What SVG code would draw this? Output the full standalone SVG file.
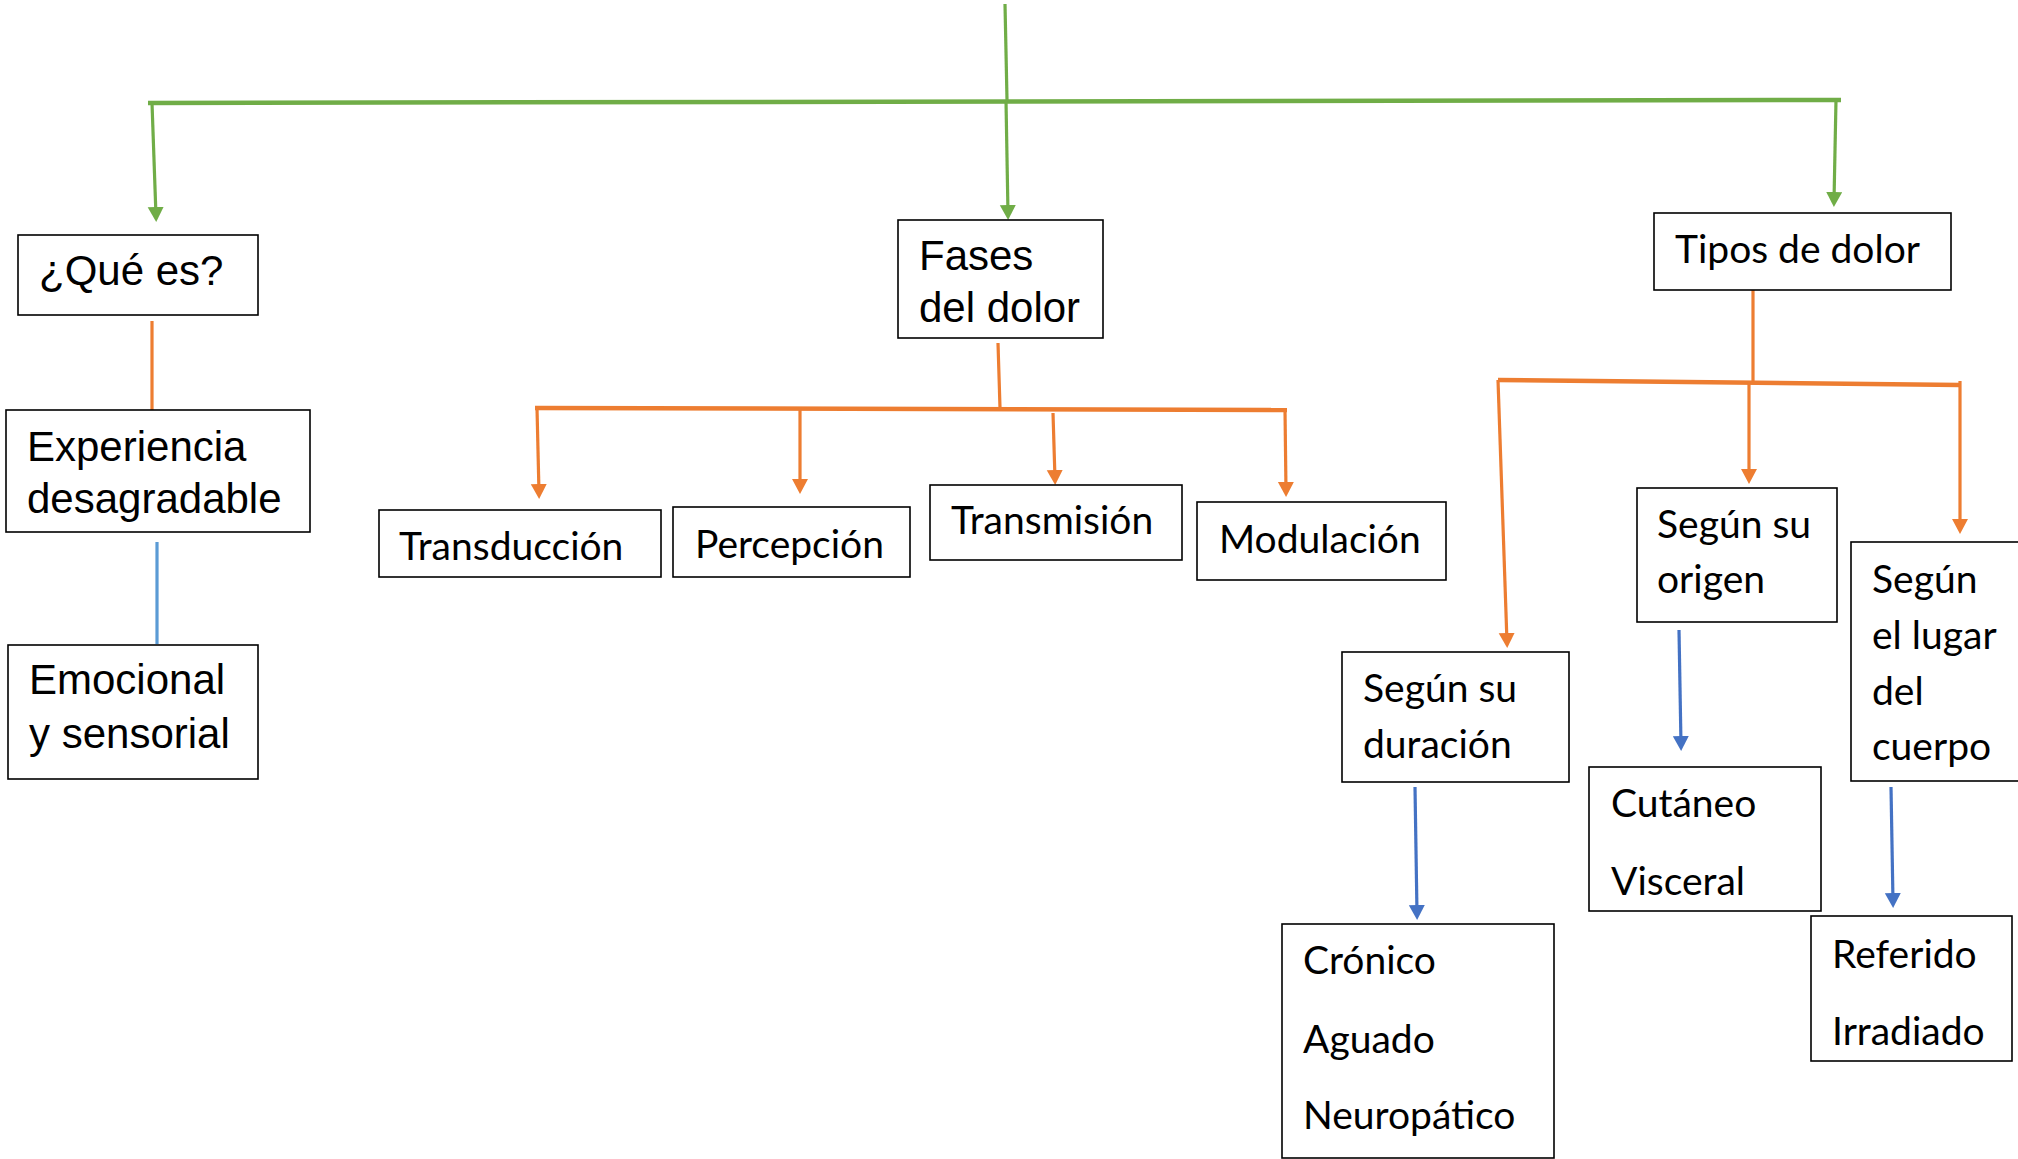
<svg xmlns="http://www.w3.org/2000/svg" width="2018" height="1159" viewBox="0 0 2018 1159">
<style>
.box{fill:#fff;stroke:#000;stroke-width:1.6}
.a{font-family:"Liberation Sans",Arial,sans-serif;font-size:42px;fill:#000}
.c{font-family:Lato,"Open Sans",sans-serif;font-size:39px;fill:#000}
.g{fill:none;stroke:#70AD47;stroke-width:3.2}
.o{fill:none;stroke:#ED7D31;stroke-width:3.2}
.b{fill:none;stroke:#4472C4;stroke-width:3.2}
.lb{fill:none;stroke:#5B9BD5;stroke-width:3.2}
.thick{stroke-width:4.5}
</style>
<defs>
<marker id="mg" markerWidth="18" markerHeight="18" refX="9" refY="8" orient="auto" markerUnits="userSpaceOnUse"><path d="M0,0 L15,8 L0,16 z" fill="#70AD47"/></marker>
<marker id="mo" markerWidth="18" markerHeight="18" refX="9" refY="8" orient="auto" markerUnits="userSpaceOnUse"><path d="M0,0 L15,8 L0,16 z" fill="#ED7D31"/></marker>
<marker id="mb" markerWidth="18" markerHeight="18" refX="9" refY="8" orient="auto" markerUnits="userSpaceOnUse"><path d="M0,0 L15,8 L0,16 z" fill="#4472C4"/></marker>
</defs>
<rect width="2018" height="1159" fill="#fff"/>
<g id="connectors">
<path class="g" d="M1005,4 L1007,100"/>
<path class="g thick" d="M148,103 L1841,100"/>
<path class="g" d="M152,103 L156,216" marker-end="url(#mg)"/>
<path class="g" d="M1006,101 L1008,214" marker-end="url(#mg)"/>
<path class="g" d="M1836,100 L1834,201" marker-end="url(#mg)"/>
<path class="o" d="M152,321 L152,410"/>
<path class="o" d="M998,343 L1000,408"/>
<path class="o thick" d="M535,408 L1287,410"/>
<path class="o" d="M537,408 L539,493" marker-end="url(#mo)"/>
<path class="o" d="M800,409 L800,488" marker-end="url(#mo)"/>
<path class="o" d="M1053,413 L1055,479" marker-end="url(#mo)"/>
<path class="o" d="M1285,410 L1286,491" marker-end="url(#mo)"/>
<path class="o" d="M1753,290 L1753,381"/>
<path class="o thick" d="M1498,380 L1960,385"/>
<path class="o" d="M1498,380 L1507,642" marker-end="url(#mo)"/>
<path class="o" d="M1749,382 L1749,478" marker-end="url(#mo)"/>
<path class="o" d="M1960,381 L1960,528" marker-end="url(#mo)"/>
<path class="lb" d="M157,542 L157,644"/>
<path class="b" d="M1679,630 L1681,745" marker-end="url(#mb)"/>
<path class="b" d="M1415,787 L1417,914" marker-end="url(#mb)"/>
<path class="b" d="M1891,787 L1893,902" marker-end="url(#mb)"/>
</g>
<g id="que-es"><rect class="box" x="18" y="235" width="240" height="80"/><text class="a" x="39" y="285">¿Qué es?</text></g>
<g id="fases"><rect class="box" x="898" y="220" width="205" height="118"/><text class="a" x="919" y="270">Fases</text><text class="a" x="919" y="322">del dolor</text></g>
<g id="tipos"><rect class="box" x="1654" y="213" width="297" height="77"/><text class="c" x="1675" y="263">Tipos de dolor</text></g>
<g id="experiencia"><rect class="box" x="6" y="410" width="304" height="122"/><text class="a" x="27" y="461">Experiencia</text><text class="a" x="27" y="513">desagradable</text></g>
<g id="emocional"><rect class="box" x="8" y="645" width="250" height="134"/><text class="a" x="29" y="694">Emocional</text><text class="a" x="29" y="748">y sensorial</text></g>
<g id="transduccion"><rect class="box" x="379" y="510" width="282" height="67"/><text class="c" x="399" y="560">Transducción</text></g>
<g id="percepcion"><rect class="box" x="673" y="507" width="237" height="70"/><text class="c" x="695" y="558">Percepción</text></g>
<g id="transmision"><rect class="box" x="930" y="485" width="252" height="75"/><text class="c" x="951" y="534">Transmisión</text></g>
<g id="modulacion"><rect class="box" x="1197" y="502" width="249" height="78"/><text class="c" x="1219" y="553">Modulación</text></g>
<g id="origen"><rect class="box" x="1637" y="488" width="200" height="134"/><text class="c" x="1657" y="538">Según su</text><text class="c" x="1657" y="593">origen</text></g>
<g id="lugar"><rect class="box" x="1851" y="542" width="180" height="239"/><text class="c" x="1872" y="593">Según</text><text class="c" x="1872" y="649">el lugar</text><text class="c" x="1872" y="705">del</text><text class="c" x="1872" y="760">cuerpo</text></g>
<g id="duracion"><rect class="box" x="1342" y="652" width="227" height="130"/><text class="c" x="1363" y="702">Según su</text><text class="c" x="1363" y="758">duración</text></g>
<g id="cutaneo"><rect class="box" x="1589" y="767" width="232" height="144"/><text class="c" x="1611" y="817">Cutáneo</text><text class="c" x="1611" y="895">Visceral</text></g>
<g id="cronico"><rect class="box" x="1282" y="924" width="272" height="234"/><text class="c" x="1303" y="974">Crónico</text><text class="c" x="1303" y="1053">Aguado</text><text class="c" x="1303" y="1129">Neuropático</text></g>
<g id="referido"><rect class="box" x="1811" y="916" width="201" height="145"/><text class="c" x="1832" y="968">Referido</text><text class="c" x="1832" y="1045">Irradiado</text></g>
</svg>
